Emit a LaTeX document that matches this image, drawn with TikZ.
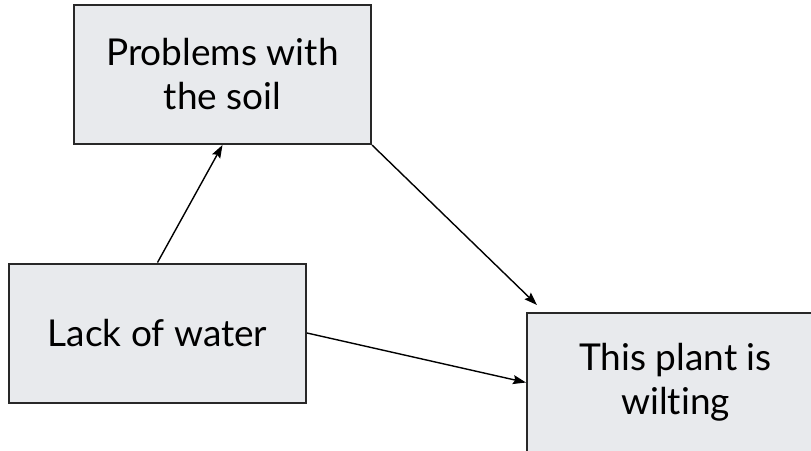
\documentclass[tikz,border=0pt]{standalone}
\usepackage{fontspec}
\setmainfont{Lato}[Ligatures=NoCommon]
\usepackage{tikz}
\usetikzlibrary{arrows.meta}
\usetikzlibrary{positioning}

\definecolor{boxfill}{RGB}{232,234,237}
\definecolor{boxline}{RGB}{40,40,40}

\begin{document}
\begin{tikzpicture}[x=1pt,y=-1pt,
    cause/.style={draw=boxline,line width=2pt,fill=boxfill,
      minimum width=297pt,minimum height=139pt,align=center,
      font=\fontsize{37}{44}\selectfont},
    link/.style={-{Stealth[length=13pt,width=9pt,inset=2pt]},line width=1.4pt}]
      \useasboundingbox (0,0) rectangle (811,450);
      \clip (0,0) rectangle (811,450);
      \node[cause] (soil) at (222.5,74.5) {Problems with\\the soil};
      \node[cause] (water) at (157.5,333) {Lack of water};
      \node[cause] (plant) at (675.5,382.5) {This plant is\\wilting};
      \coordinate (tip) at (537,305);
      \draw[link] (water.north) -- (soil.south);
      \draw[link] (soil.south east) -- (tip);
      \draw[link] (water.east) -- (plant.west);
    \end{tikzpicture}
\end{document}
